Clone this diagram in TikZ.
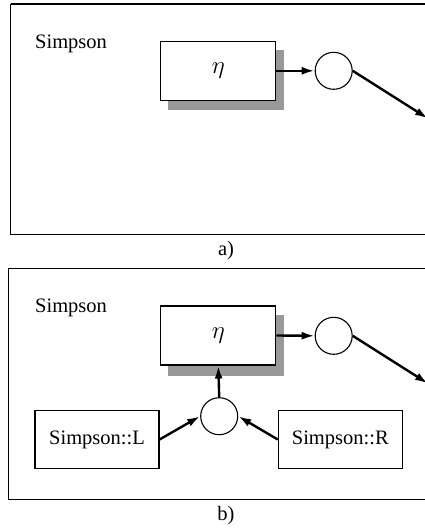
\documentclass[tikz,border=0pt]{standalone}
\usepackage{fontspec}
\setmainfont{Liberation Serif}
\usetikzlibrary{arrows.meta}
\begin{document}
\begin{tikzpicture}[x=1pt,y=-1pt,
  frame/.style={draw,line width=1.3pt},
  lbl/.style={font=\fontsize{20.5}{24}\selectfont,inner sep=0pt},
  box/.style={draw,line width=1.1pt,fill=white,minimum width=115pt,minimum height=59pt,inner sep=0pt,font=\fontsize{20.5}{24}\selectfont},
  etabox/.style={box,font=\fontsize{24}{28}\selectfont},
  shadowbox/.style={fill=black!40},
  circ/.style={draw,line width=1.1pt,circle,minimum size=37pt,inner sep=0pt,fill=white},
  conn/.style={line width=2.4pt,-{Latex[length=13pt,width=8pt]}}]
\useasboundingbox (0,0) rectangle (425,528);
\clip (0,0) rectangle (425,528);
% ---------- panel a ----------
\draw[frame] (10.7,4) -- (440,4);
\draw[frame] (10.7,4) -- (10.7,234.5) -- (440,234.5);
\node[lbl,anchor=base west] (sa) at (35,48) {Simpson};
\fill[shadowbox] (168.3,50) rectangle (283.7,110);
\node[etabox] (ea) at (218.3,70.8) {$\eta$};
\node[circ] (ca) at (333.7,70.8) {};
\coordinate (oa) at (428,118.5);
\draw[conn] (ea.east) -- (ca.west);
\draw[conn] (ca.east) -- (oa);
\node[lbl,anchor=base] (la) at (226,255) {a)};
% ---------- panel b ----------
\draw[frame] (8.3,268.5) -- (440,268.5);
\draw[frame] (8.3,268.5) -- (8.3,499.3) -- (440,499.3);
\node[lbl,anchor=base west] (sb) at (35,312.3) {Simpson};
\fill[shadowbox] (168.3,315) rectangle (283.7,375.5);
\node[etabox] (eb) at (218.3,335.5) {$\eta$};
\node[circ] (cb) at (333.7,335.8) {};
\coordinate (ob) at (428,383.5);
\draw[conn] (eb.east) -- (cb.west);
\draw[conn] (cb.east) -- (ob);
\node[circ] (cm) at (219.2,416.2) {};
\node[box,minimum width=124pt,minimum height=57.5pt] (L) at (97,439.5) {Simpson::L};
\node[box,minimum width=124pt,minimum height=57.5pt] (R) at (340.3,439.5) {Simpson::R};
\draw[conn] (cm.north) -- (eb.south);
\draw[conn] (L.east) -- (cm.west);
\draw[conn] (R.west) -- (cm.east);
\node[lbl,anchor=base] (lb) at (226,520) {b)};
\end{tikzpicture}
\end{document}
